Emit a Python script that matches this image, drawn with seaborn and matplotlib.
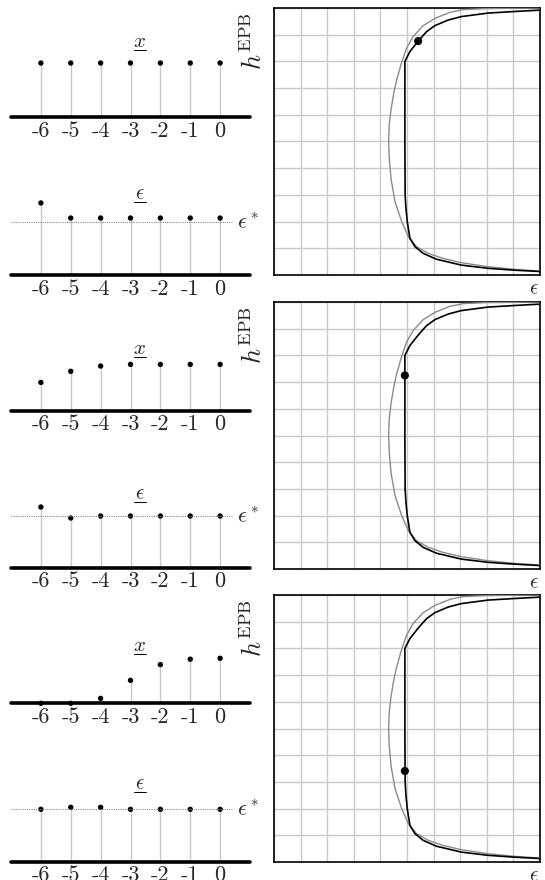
import matplotlib
matplotlib.use("Agg")
import matplotlib.pyplot as plt
import seaborn as sns
from matplotlib.lines import Line2D
from matplotlib.mathtext import MathTextParser

# time steps shown in the stem plots
steps = [-6, -5, -4, -3, -2, -1, 0]
step_labels = ["-6", "-5", "-4", "-3", "-2", "-1", "0"]

# state x per row (scaled so that the settled value is 1)
x_row1 = [1.0, 1.0, 1.0, 1.0, 1.0, 1.0, 1.0]
x_row2 = [0.61, 0.85, 0.965, 1.0, 1.0, 1.0, 1.0]
x_row3 = [0.0, 0.0, 0.11, 0.51, 0.86, 0.98, 1.0]

# epsilon per row (scaled so that epsilon* is 1)
eps_star = 1.0
eps_row1 = [1.36, 1.075, 1.075, 1.075, 1.075, 1.075, 1.075]
eps_row2 = [1.174, 0.961, 1.0, 1.0, 1.0, 1.0, 1.0]
eps_row3 = [1.0, 1.038, 1.038, 1.0, 1.0, 1.0, 1.0]

# h^EPB curves (epsilon, h) on a 0..10 grid
black_eps = [10.0, 9.06, 8.05, 7.05, 6.11, 5.61, 5.30, 5.11, 5.01, 4.96, 4.93,
             4.92, 4.92, 5.11, 5.42, 5.73, 6.05, 6.55, 7.05, 8.05, 9.06, 10.0]
black_h = [0.13, 0.18, 0.25, 0.37, 0.59, 0.81, 1.06, 1.37, 2.0, 2.5, 3.0,
           5.0, 8.0, 8.37, 8.76, 9.11, 9.34, 9.55, 9.68, 9.81, 9.87, 9.92]
gray_eps = [10.0, 9.06, 8.05, 7.05, 6.36, 5.80, 5.36, 5.05, 4.80, 4.55, 4.40,
            4.33, 4.31, 4.33, 4.40, 4.50, 4.61, 4.78, 4.98, 5.23, 5.61, 6.05,
            6.62, 7.12, 8.0, 9.0, 10.0]
gray_h = [0.15, 0.21, 0.31, 0.46, 0.62, 0.81, 1.06, 1.44, 2.0, 2.75, 3.6,
          4.4, 5.0, 5.6, 6.2, 6.8, 7.3, 7.9, 8.49, 8.93, 9.34, 9.61,
          9.84, 9.94, 9.98, 9.99, 10.0]

# operating point per row
point_eps = [5.42, 4.92, 4.92]
point_h = [8.76, 7.25, 3.41]

W, H = 545, 880

sns.set_style("white")
plt.rcParams["mathtext.fontset"] = "cm"
plt.rcParams["font.family"] = ["cmr10", "DejaVu Serif"]
plt.rcParams["axes.unicode_minus"] = False


def underline_ok():
    try:
        MathTextParser("path").parse(r"$\underline{x}$")
        return True
    except Exception:
        return False


UNDERLINE = underline_ok()


def px_axes(fig, x0, y0, x1, y1):
    return fig.add_axes([x0 / W, 1 - y1 / H, (x1 - x0) / W, (y1 - y0) / H])


def stem_panel(fig, values, base, title_y, unit, symbol, ref=None):
    ax = px_axes(fig, 11, title_y, 250, base)
    ax.set_xlim(-7, 1)
    ax.set_ylim(0, (base - title_y) / unit)
    ax.patch.set_alpha(0)
    for s in ax.spines.values():
        s.set_visible(False)
    ax.vlines(steps, 0, values, color="#c8c8c8", lw=1, zorder=1)
    sns.scatterplot(x=steps, y=values, ax=ax, color="black", s=15,
                    edgecolor="none", zorder=3, clip_on=False)
    ax.axhline(0, color="black", lw=2.6, zorder=4, clip_on=False)
    if ref is not None:
        ax.hlines(ref, -7, 0.4, color="#888888", lw=0.8,
                  linestyle=(0, (1, 1)), zorder=5)
        ax.text(0.55, ref, r"$\epsilon^*$", fontsize=16, ha="left",
                va="center")
    ax.set_xticks(steps)
    ax.set_xticklabels(step_labels, fontsize=16)
    ax.set_yticks([])
    ax.tick_params(axis="x", length=0, pad=3)
    ylim_top = ax.get_ylim()[1]
    if UNDERLINE:
        ax.text(-2.7, ylim_top, r"$\underline{%s}$" % symbol, fontsize=15,
                ha="center", va="baseline", clip_on=False)
    else:
        ax.text(-2.7, ylim_top, r"$%s$" % symbol, fontsize=15,
                ha="center", va="baseline", clip_on=False)
        xc = 11 + (-2.7 + 7) * 29.9
        fig.add_artist(Line2D([(xc - 6) / W, (xc + 6) / W],
                              [1 - (title_y + 3) / H, 1 - (title_y + 3) / H],
                              color="black", lw=0.7))
    return ax


def epb_panel(fig, top, pe, ph):
    ax = px_axes(fig, 274, top, 540, top + 267)
    ax.set_xlim(0, 10)
    ax.set_ylim(0, 10)
    ax.set_xticks(range(11))
    ax.set_yticks(range(11))
    ax.set_xticklabels([])
    ax.set_yticklabels([])
    ax.tick_params(length=0)
    ax.grid(True, color="#c8c8c8", lw=1)
    for s in ax.spines.values():
        s.set_color("black")
        s.set_linewidth(1.2)
    sns.lineplot(x=gray_eps, y=gray_h, sort=False, estimator=None,
                 color="#8a8a8a", lw=1.0, ax=ax, zorder=3)
    sns.lineplot(x=black_eps, y=black_h, sort=False, estimator=None,
                 color="black", lw=1.2, ax=ax, zorder=4)
    sns.scatterplot(x=[pe], y=[ph], ax=ax, color="black", s=34,
                    edgecolor="none", zorder=5)
    ax.text(-0.025, 0.985, r"$h^{\mathrm{EPB}}$", fontsize=19, rotation=90,
            ha="right", va="top", transform=ax.transAxes)
    ax.text(0.995, -0.02, r"$\epsilon$", fontsize=15, ha="right", va="top",
            transform=ax.transAxes)
    return ax


fig = plt.figure(figsize=(W / 100, H / 100), dpi=100)

# row 1
stem_panel(fig, x_row1, 117, 47, 54, "x")
stem_panel(fig, eps_row1, 275, 199, 53, r"\epsilon", ref=eps_star)
epb_panel(fig, 8, point_eps[0], point_h[0])

# row 2
stem_panel(fig, x_row2, 410.7, 354, 46.3, "x")
stem_panel(fig, eps_row2, 567.7, 499, 51.7, r"\epsilon", ref=eps_star)
epb_panel(fig, 302, point_eps[1], point_h[1])

# row 3
stem_panel(fig, x_row3, 703.3, 651, 45, "x")
stem_panel(fig, eps_row3, 861.7, 789, 52.4, r"\epsilon", ref=eps_star)
epb_panel(fig, 595, point_eps[2], point_h[2])

fig.savefig("out.png", dpi=100)
